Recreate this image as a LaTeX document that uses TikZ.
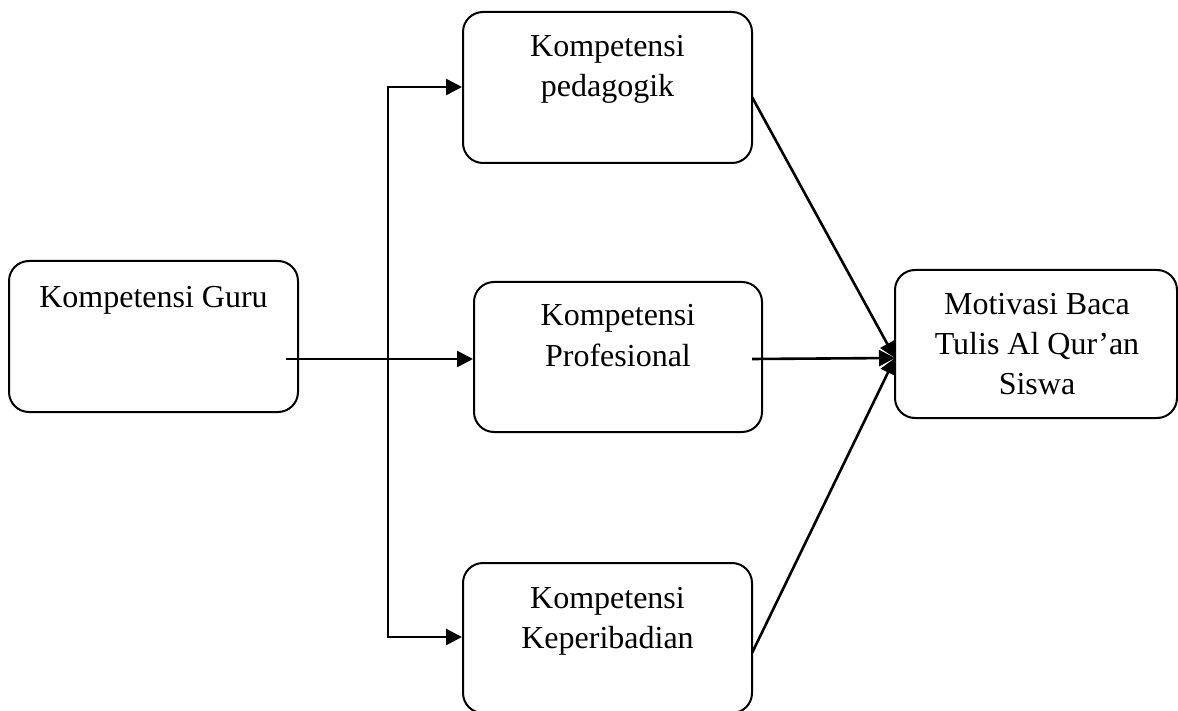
\documentclass[tikz,border=0pt]{standalone}
\usepackage{fontspec}
\setmainfont{Liberation Serif}
\usetikzlibrary{arrows.meta}
\begin{document}
\begin{tikzpicture}[x=1pt,y=-1pt,
  box/.style={draw, line width=2pt, rounded corners=20pt, inner sep=0pt, minimum width=289pt, minimum height=151pt},
  lbl/.style={anchor=base, inner sep=0pt, font=\fontsize{32}{40}\selectfont},
  conn/.style={line width=2.6pt},
  tip/.style={-{Triangle[length=16pt,width=16pt]}}]
\useasboundingbox (0,0) rectangle (1178,711);
% boxes
\node[box] (guru) at (153.5,336.5) {};
\node[box] (ped) at (607.5,87.5) {};
\node[box, minimum width=288pt, minimum height=150pt] (prof) at (618,357) {};
\node[box, minimum height=150pt] (kep) at (607.5,638) {};
\node[box, minimum width=282pt, minimum height=148pt] (mot) at (1036,344) {};
% labels
\node[lbl] (tguru) at (153.5,308) {Kompetensi Guru};
\node[lbl] (tped) at (607.5,57) {\begin{tabular}[t]{@{}c@{}}Kompetensi\\pedagogik\end{tabular}};
\node[lbl] (tprof) at (618,326) {\begin{tabular}[t]{@{}c@{}}Kompetensi\\Profesional\end{tabular}};
\node[lbl] (tkep) at (607.5,608) {\begin{tabular}[t]{@{}c@{}}Kompetensi\\Keperibadian\end{tabular}};
\node[lbl] (tmot) at (1037,315) {\begin{tabular}[t]{@{}c@{}}Motivasi Baca\\Tulis Al Qur’an\\Siswa\end{tabular}};
% coordinates
\coordinate (gstart) at (286,359);
\coordinate (vt) at (388,87);
\coordinate (vb) at (388,637);
\coordinate (pedout) at (752,97);
\coordinate (profout) at (752,359);
\coordinate (kepout) at (752,653);
\coordinate (motin) at (895,358);
% connectors
\draw[conn, tip] (gstart) -- (gstart -| prof.west);
\draw[conn, {Triangle[length=16pt,width=16pt]}-{Triangle[length=16pt,width=16pt]}] (vt -| ped.west) -- (vt) -- (vb) -- (vb -| kep.west);
\draw[conn, tip] (pedout) -- (motin);
\draw[conn, tip] (profout) -- (motin);
\draw[conn, tip] (kepout) -- (motin);
\end{tikzpicture}
\end{document}
